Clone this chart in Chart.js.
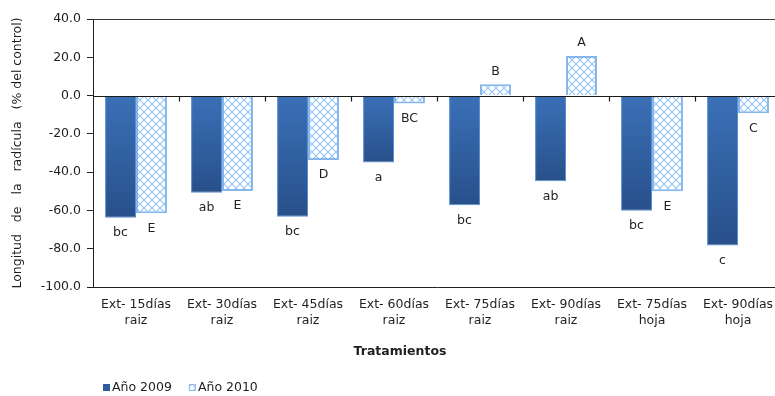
<!DOCTYPE html>
<html>
<head>
<meta charset="utf-8">
<script src="https://cdn.jsdelivr.net/npm/chart.js@4/dist/chart.umd.min.js"></script>
<style>
  html, body { margin: 0; padding: 0; overflow: hidden; background: #ffffff; }
  #wrap { width: 790px; height: 396px; position: relative; }
</style>
</head>
<body>
<div id="wrap"><canvas id="chart"></canvas></div>
<script>
// Treatments (extract age and plant part)
const categories = [
  ['Ext- 15días', 'raiz'],
  ['Ext- 30días', 'raiz'],
  ['Ext- 45días', 'raiz'],
  ['Ext- 60días', 'raiz'],
  ['Ext- 75días', 'raiz'],
  ['Ext- 90días', 'raiz'],
  ['Ext- 75días', 'hoja'],
  ['Ext- 90días', 'hoja']
];

// Radicle length relative to control (%)
const values2009 = [-63.8, -50.7, -63.3, -35.0, -57.3, -44.8, -60.2, -78.3];
const values2010 = [-61.5, -49.8, -33.6, -4.2, 5.9, 20.7, -50.0, -9.3];

// Significance letters for each bar
const letters2009 = ['bc', 'ab', 'bc', 'a', 'bc', 'ab', 'bc', 'c'];
const letters2010 = ['E', 'E', 'D', 'BC', 'B', 'A', 'E', 'C'];

const seriesNames = ['Año 2009', 'Año 2010'];
const yMin = -100, yMax = 40, yStep = 20;

const FONT = 'DejaVu Sans';
const TEXT = '#1f1f1f';

// Light-blue crosshatch fill for the 2010 series
function makeHatch() {
  const s = 8;
  const c = document.createElement('canvas');
  c.width = s; c.height = s;
  const g = c.getContext('2d');
  g.fillStyle = '#ffffff';
  g.fillRect(0, 0, s, s);
  g.strokeStyle = '#95c2f3';
  g.lineWidth = 1.1;
  g.beginPath();
  g.moveTo(0, 0); g.lineTo(s, s);
  g.moveTo(s, 0); g.lineTo(0, s);
  g.stroke();
  return g.createPattern(c, 'repeat');
}
const hatch = makeHatch();

// Vertical gradient for the 2009 series, from the zero line to each bar's end
function gradient2009(ctx) {
  const chart = ctx.chart;
  const y = chart.scales && chart.scales.y;
  if (!y || ctx.raw === undefined || !chart.chartArea) return '#3167ab';
  const y0 = y.getPixelForValue(0);
  const y1 = y.getPixelForValue(ctx.raw);
  if (Math.abs(y1 - y0) < 1) return '#3167ab';
  const g = chart.ctx.createLinearGradient(0, y0, 0, y1);
  g.addColorStop(0, '#3a70b7');
  g.addColorStop(1, '#28508a');
  return g;
}

const decorations = {
  id: 'decorations',
  beforeDatasetsDraw(chart) {
    const { ctx, chartArea: a } = chart;
    ctx.save();
    ctx.strokeStyle = '#3a3a3a';
    ctx.lineWidth = 1;
    ctx.beginPath();
    ctx.moveTo(a.left, a.top + 0.5);
    ctx.lineTo(a.right, a.top + 0.5);
    ctx.stroke();
    ctx.restore();
  },
  afterDatasetsDraw(chart) {
    const { ctx, chartArea: a, scales: { x, y } } = chart;
    ctx.save();
    // zero line with category-boundary tick marks
    const y0 = Math.round(y.getPixelForValue(0)) + 0.5;
    ctx.strokeStyle = '#1a1a1a';
    ctx.lineWidth = 1.2;
    ctx.beginPath();
    ctx.moveTo(a.left, y0);
    ctx.lineTo(a.right, y0);
    const half = (x.getPixelForValue(1) - x.getPixelForValue(0)) / 2;
    for (let i = 0; i < categories.length; i++) {
      const bx = Math.round(x.getPixelForValue(i) + half) + 0.5;
      ctx.moveTo(bx, y0);
      ctx.lineTo(bx, y0 + 5);
    }
    ctx.stroke();

    // significance letters
    ctx.fillStyle = TEXT;
    ctx.font = '12.5px "' + FONT + '"';
    ctx.textAlign = 'center';
    ctx.textBaseline = 'middle';
    const sets = [letters2009, letters2010];
    chart.data.datasets.forEach((ds, di) => {
      const meta = chart.getDatasetMeta(di);
      meta.data.forEach((bar, i) => {
        const v = ds.data[i];
        const ty = v < 0 ? bar.y + 15 : bar.y - 13;
        ctx.fillText(sets[di][i], bar.x, ty);
      });
    });

    // axis title
    ctx.font = 'bold 12.5px "' + FONT + '"';
    ctx.fillText('Tratamientos', 400, 352);

    // legend
    ctx.font = '12.5px "' + FONT + '"';
    ctx.textAlign = 'left';
    let lx = 103;
    const ly = 388;
    chart.data.datasets.forEach((ds, di) => {
      if (di === 0) {
        ctx.fillStyle = '#2d5c9c';
        ctx.fillRect(lx, ly - 4, 7, 7);
      } else {
        ctx.fillStyle = hatch;
        ctx.fillRect(lx, ly - 4, 7, 7);
        ctx.strokeStyle = '#8cbaf0';
        ctx.lineWidth = 1;
        ctx.strokeRect(lx + 0.5, ly - 3.5, 6, 6);
      }
      ctx.fillStyle = TEXT;
      ctx.fillText(ds.label, lx + 9, ly);
      lx += 9 + ctx.measureText(ds.label).width + 17;
    });
    ctx.restore();
  }
};

new Chart(document.getElementById('chart'), {
  type: 'bar',
  data: {
    labels: categories,
    datasets: [
      {
        label: seriesNames[0],
        data: values2009,
        backgroundColor: gradient2009,
        borderColor: '#5b8fd1',
        borderWidth: 1
      },
      {
        label: seriesNames[1],
        data: values2010,
        backgroundColor: hatch,
        borderColor: '#86b6ee',
        borderWidth: 2
      }
    ]
  },
  options: {
    responsive: true,
    maintainAspectRatio: false,
    animation: false,
    layout: { padding: { top: 19, right: 9, bottom: 0, left: 0 } },
    datasets: { bar: { categoryPercentage: 0.72, barPercentage: 1.0 } },
    plugins: {
      legend: { display: false },
      tooltip: { enabled: false }
    },
    scales: {
      x: {
        grid: { display: false, drawTicks: false },
        border: { display: true, color: '#222222', width: 1 },
        ticks: {
          color: TEXT,
          font: { family: FONT, size: 12.5, lineHeight: 1.25 },
          padding: 10,
          maxRotation: 0,
          autoSkip: false
        },
        afterFit(scale) { scale.height = 109; }
      },
      y: {
        min: yMin,
        max: yMax,
        grid: { drawOnChartArea: false, drawTicks: true, tickLength: 6, color: '#222222' },
        border: { display: true, color: '#222222', width: 1 },
        ticks: {
          stepSize: yStep,
          color: TEXT,
          font: { family: FONT, size: 12.5 },
          padding: 6,
          callback: (v) => Number(v).toFixed(1)
        },
        title: {
          display: true,
          text: 'Longitud   de   la   radícula   (% del control)',
          color: TEXT,
          font: { family: FONT, size: 12.5 },
          padding: { top: 10, bottom: 0 }
        },
        afterFit(scale) { scale.width = 93; }
      }
    }
  },
  plugins: [decorations]
});
</script>
</body>
</html>
